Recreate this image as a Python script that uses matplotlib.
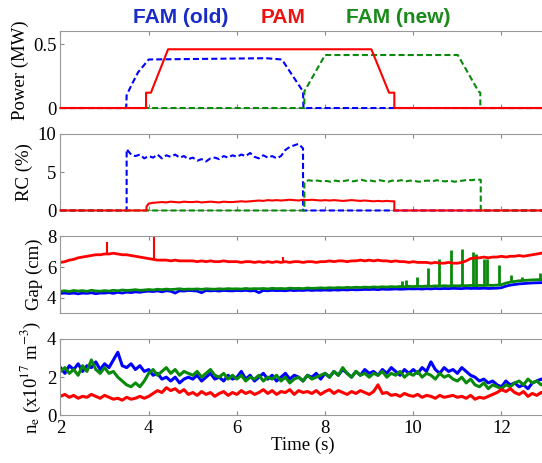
import numpy as np
import matplotlib
matplotlib.use('Agg')
from matplotlib import pyplot as plt

plt.rcParams['font.family'] = 'serif'
plt.rcParams['font.serif'] = ['Liberation Serif', 'DejaVu Serif']
plt.rcParams['mathtext.fontset'] = 'stix'

BLUE = '#0000ff'
RED = '#ff0000'
GREEN = '#0a8a0a'

# ---- Power (MW), piecewise waveforms
fam_old_pw_t = [2.0, 3.49, 3.5, 3.61, 3.76, 4.0, 6.66, 7.02, 7.5, 7.51, 13.0]
fam_old_pw = [0, 0, 0.10, 0.18, 0.28, 0.38, 0.39, 0.38, 0.13, 0, 0]
pam_pw_t = [2.0, 3.94, 3.94, 4.05, 4.44, 9.05, 9.45, 9.57, 9.57, 13.0]
pam_pw = [0, 0, 0.12, 0.12, 0.46, 0.46, 0.12, 0.12, 0, 0]
fam_new_pw_t = [2.0, 7.53, 7.53, 8.0, 11.01, 11.48, 11.52, 11.52, 13.0]
fam_new_pw = [0, 0, 0.13, 0.415, 0.415, 0.13, 0.12, 0, 0]

# ---- RC (%), sampled every 0.1 s while each antenna is on
rc_old_on, rc_old_off = 3.5, 7.5
rc_old = [8.0, 7.3, 7.1, 7.3, 6.8, 7.1, 6.9, 7.3, 6.8, 7.2,
          7.0, 7.3, 6.9, 7.1, 6.7, 6.9, 6.5, 6.7, 6.4, 6.8,
          6.9, 6.7, 7.1, 6.9, 7.2, 7.0, 7.3, 7.1, 7.5, 7.0,
          6.8, 7.2, 6.9, 7.1, 6.8, 7.1, 7.9, 8.3, 8.5, 8.7,
          8.1]
rc_pam_on, rc_pam_off = 4.0, 9.5
rc_pam = [0.9, 1.0, 1.05, 1.1, 1.05, 1.15, 1.1, 1.05, 1.15, 1.1,
          1.1, 1.15, 1.05, 1.1, 1.15, 1.1, 1.05, 1.15, 1.1, 1.1,
          1.15, 1.2, 1.15, 1.2, 1.25, 1.3, 1.25, 1.35, 1.3, 1.35,
          1.3, 1.35, 1.4, 1.35, 1.3, 1.4, 1.35, 1.4, 1.35, 1.3,
          1.35, 1.3, 1.35, 1.3, 1.25, 1.3, 1.35, 1.3, 1.25, 1.3,
          1.25, 1.2, 1.25, 1.2, 1.25, 1.2]
rc_new_on, rc_new_off = 7.53, 11.53
rc_new = [3.7, 3.95, 3.85, 3.9, 3.8, 3.85, 3.75, 3.9, 3.8, 3.85,
          3.95, 3.8, 3.9, 4.0, 3.85, 3.9, 3.8, 3.95, 3.85, 3.75,
          3.9, 3.85, 3.95, 3.8, 3.9, 3.85, 3.75, 3.85, 3.9, 3.8,
          3.95, 3.85, 3.8, 3.9, 3.75, 3.85, 3.9, 4.0, 3.95, 4.05,
          4.0]

# ---- Gap (cm) and density, sampled every 0.1 s from 2.0 to 13.0 s
time = np.round(np.arange(2.0, 13.05, 0.1), 1)

gap_old = [4.28, 4.3, 4.27, 4.3, 4.25, 4.3, 4.28, 4.32, 4.26, 4.3,
           4.3, 4.33, 4.28, 4.35, 4.3, 4.36, 4.33, 4.38, 4.35, 4.4,
           4.42, 4.4, 4.44, 4.38, 4.45, 4.42, 4.3, 4.45, 4.43, 4.47,
           4.45, 4.43, 4.32, 4.47, 4.44, 4.46, 4.43, 4.47, 4.45, 4.44,
           4.47, 4.45, 4.48, 4.44, 4.46, 4.33, 4.47, 4.45, 4.48, 4.46,
           4.47, 4.45, 4.49, 4.46, 4.48, 4.47, 4.5, 4.47, 4.49, 4.48,
           4.5, 4.48, 4.51, 4.49, 4.52, 4.5, 4.53, 4.51, 4.52, 4.54,
           4.53, 4.55, 4.52, 4.56, 4.54, 4.55, 4.57, 4.55, 4.56, 4.58,
           4.57, 4.58, 4.56, 4.59, 4.57, 4.6, 4.58, 4.6, 4.59, 4.61,
           4.6, 4.59, 4.62, 4.6, 4.61, 4.6, 4.62, 4.6, 4.61, 4.62,
           4.65, 4.75, 4.82, 4.86, 4.9, 4.92, 4.94, 4.96, 4.97, 4.98,
           5.0]
gap_pam = [6.3, 6.35, 6.45, 6.5, 6.6, 6.65, 6.7, 6.75, 6.8, 6.8,
           6.85, 6.85, 6.9, 6.85, 6.8, 6.8, 6.75, 6.7, 6.65, 6.6,
           6.55, 6.5, 6.45, 6.45, 6.45, 6.4, 6.45, 6.4, 6.4, 6.4,
           6.4, 6.35, 6.4, 6.35, 6.4, 6.35, 6.35, 6.4, 6.35, 6.35,
           6.35, 6.3, 6.35, 6.35, 6.3, 6.35, 6.3, 6.35, 6.3, 6.35,
           6.3, 6.35, 6.3, 6.35, 6.35, 6.3, 6.35, 6.35, 6.3, 6.35,
           6.35, 6.4, 6.35, 6.4, 6.4, 6.35, 6.4, 6.4, 6.45, 6.4,
           6.45, 6.4, 6.45, 6.4, 6.4, 6.35, 6.4, 6.35, 6.35, 6.3,
           6.35, 6.3, 6.3, 6.3, 6.25, 6.3, 6.25, 6.25, 6.3, 6.25,
           6.25, 6.3, 6.4, 6.55, 6.6, 6.6, 6.65, 6.6, 6.65, 6.65,
           6.7, 6.65, 6.7, 6.7, 6.75, 6.7, 6.75, 6.8, 6.85, 6.9,
           6.95]
gap_new = [4.42, 4.45, 4.4, 4.47, 4.43, 4.46, 4.41, 4.48, 4.44, 4.42,
           4.46, 4.43, 4.48, 4.45, 4.5, 4.47, 4.49, 4.52, 4.48, 4.5,
           4.53, 4.5, 4.55, 4.52, 4.56, 4.53, 4.55, 4.58, 4.54, 4.56,
           4.55, 4.57, 4.54, 4.58, 4.56, 4.55, 4.58, 4.56, 4.59, 4.57,
           4.58, 4.56, 4.6, 4.57, 4.59, 4.58, 4.6, 4.57, 4.61, 4.59,
           4.6, 4.58, 4.62, 4.6, 4.61, 4.59, 4.63, 4.61, 4.62, 4.64,
           4.62, 4.65, 4.63, 4.66, 4.64, 4.67, 4.65, 4.68, 4.66, 4.69,
           4.67, 4.7, 4.68, 4.71, 4.69, 4.72, 4.7, 4.73, 4.71, 4.74,
           4.72, 4.75, 4.73, 4.76, 4.74, 4.77, 4.75, 4.78, 4.76, 4.78,
           4.77, 4.79, 4.78, 4.8, 4.78, 4.8, 4.79, 4.81, 4.8, 4.82,
           4.85, 4.95, 5.02, 5.06, 5.1, 5.12, 5.14, 5.16, 5.17, 5.18,
           5.2]
# short spikes in the gap traces
spike_new_t = [9.74, 9.83, 10.08, 10.34, 10.59, 10.85, 11.10, 11.35, 11.42, 11.60,
               11.68, 11.95, 12.21, 12.46, 12.88]
spike_new_top = [5.06, 5.17, 5.38, 5.91, 6.55, 7.08, 7.18, 6.97, 6.87, 6.55,
                 6.55, 6.12, 5.48, 5.38, 5.59]
spike_new_base = [4.71, 4.72, 4.74, 4.76, 4.76, 4.77, 4.77, 4.79, 4.78, 4.8,
                  4.8, 4.81, 5.05, 5.12, 5.18]
spike_pam_t = [3.06, 4.12, 7.04]
spike_pam_top = [7.6, 7.95, 6.65]
spike_pam_base = [6.85, 6.5, 6.3]

ne_old = [2.5, 2.2, 2.6, 2.4, 2.7, 2.3, 2.6, 2.5, 2.8, 2.4,
          2.7, 2.5, 2.9, 3.3, 2.6, 2.5, 2.7, 2.4, 2.6, 2.3,
          2.4, 2.1, 2.2, 1.9, 2.0, 1.8, 2.0, 1.7, 1.9, 2.0,
          1.9, 2.1, 1.8, 2.0, 2.2, 1.9, 2.0, 1.8, 2.1, 1.9,
          2.0, 2.3, 1.9, 2.1, 1.8, 2.0, 2.2, 1.9, 2.1, 1.8,
          2.0, 2.2, 1.9, 2.1, 2.0, 1.8, 2.1, 2.0, 2.2, 1.9,
          2.2, 2.0, 2.3, 2.1, 2.4, 2.2, 2.0, 2.3, 2.1, 2.4,
          2.2, 2.3, 2.1, 2.4, 2.2, 2.5, 2.3, 2.1, 2.4, 2.2,
          2.4, 2.2, 2.5, 2.3, 2.8, 2.4, 2.2, 2.5, 2.3, 2.4,
          2.2, 2.5, 2.3, 2.1, 2.0, 1.8, 1.9, 1.7, 1.8, 1.6,
          1.5, 1.8, 1.6, 1.7, 1.5, 1.6, 1.4, 1.7, 1.8, 1.9,
          1.8]
ne_new = [2.3, 2.5, 2.2, 2.4, 2.1, 2.6, 2.3, 2.9, 2.4, 2.2,
          2.5, 2.2, 2.3, 2.0, 1.8, 1.6, 1.5, 1.7, 1.5, 1.8,
          2.2, 2.4, 2.1, 2.3, 2.5, 2.2, 2.4, 2.1, 2.3, 2.2,
          2.1, 2.3, 2.0, 2.2, 2.4, 2.1, 2.0, 2.2, 1.9, 2.1,
          1.9, 2.1, 1.8, 2.0, 1.9, 2.1, 1.8, 2.0, 1.9, 2.1,
          1.8, 2.0, 1.7, 1.9, 2.0, 1.8, 2.1, 1.9, 2.0, 2.1,
          2.2, 2.0, 2.3, 2.1, 2.5, 2.2, 2.0, 2.3, 2.1, 2.2,
          2.0, 2.2, 2.1, 2.3, 2.0, 2.2, 2.1, 2.3, 2.0, 2.2,
          2.1, 2.3, 2.0, 2.2, 2.1, 1.9, 2.2, 2.0, 2.1, 1.9,
          1.8, 2.0, 1.7, 1.9, 1.6, 1.5, 1.7, 1.4, 1.6, 1.5,
          1.4, 1.6, 1.5, 1.7, 1.8, 1.6, 1.9, 1.7, 1.8, 1.6,
          1.7]
ne_pam = [1.0, 1.1, 0.95, 1.05, 0.9, 1.0, 0.95, 1.1, 1.0, 0.9,
          1.05, 0.95, 0.85, 0.9, 0.8, 0.95, 0.85, 0.9, 1.0, 0.9,
          1.0, 1.15, 1.3, 1.2, 1.45, 1.3, 1.4, 1.2, 1.35, 1.1,
          1.2, 1.05, 1.25, 1.1, 1.2, 1.0, 1.15, 1.25, 1.05, 1.2,
          1.1, 1.3, 1.15, 1.25, 1.1, 1.2, 1.35, 1.15, 1.3, 1.1,
          1.25, 1.2, 1.35, 1.1, 1.3, 1.2, 1.25, 1.15, 1.3, 1.1,
          1.25, 1.35, 1.15, 1.3, 1.2, 1.1, 1.25, 1.15, 1.3, 1.2,
          1.1, 1.25, 1.6, 1.15, 1.2, 1.05, 1.1, 1.0, 1.15, 1.05,
          1.0, 1.1, 0.95, 1.05, 1.0, 0.9, 1.05, 0.95, 1.0, 1.05,
          0.95, 1.0, 0.9, 1.05, 0.85, 0.95, 0.9, 1.0, 1.1, 1.2,
          1.35, 1.25, 1.4, 1.2, 1.1, 1.25, 1.0, 1.15, 1.05, 1.2,
          1.15]


def step_trace(t_on, t_off, vals):
    # zero before t_on, sampled values every 0.1 s, zero after t_off
    tt = np.round(t_on + 0.1 * np.arange(len(vals)), 2)
    t = np.concatenate([[2.0, t_on], tt, [t_off, 13.0]])
    y = np.concatenate([[0, 0], vals, [0, 0]])
    return t, y


fig = plt.figure(figsize=(5.42, 4.63), dpi=100)
left, width, h = 0.1116, 0.895, 0.1655
bottoms = [0.7667, 0.5454, 0.3240, 0.1026]
axes = [fig.add_axes([left, b, width, h]) for b in bottoms]

dash = dict(linestyle='--', dashes=(2.9, 1.5), zorder=3)
ax = axes[0]
ax.plot(fam_old_pw_t, fam_old_pw, color=BLUE, lw=1.5, clip_on=False, **dash)
ax.plot(fam_new_pw_t, fam_new_pw, color=GREEN, lw=1.5, clip_on=False, **dash)
ax.plot(pam_pw_t, pam_pw, color=RED, lw=1.5, clip_on=False, zorder=3)
ax.set_ylim(0, 0.6)
ax.set_yticks([0, 0.5])
ax.set_yticklabels(['0', '0.5'])
ax.set_ylabel('Power (MW)')

ax = axes[1]
t, y = step_trace(rc_old_on, rc_old_off, rc_old)
ax.plot(t, y, color=BLUE, lw=1.5, clip_on=False, **dash)
t, y = step_trace(rc_new_on, rc_new_off, rc_new)
ax.plot(t, y, color=GREEN, lw=1.5, clip_on=False, **dash)
t, y = step_trace(rc_pam_on, rc_pam_off, rc_pam)
t = np.concatenate([[2.0, 3.95, 3.95], t[2:-2], [9.57, 9.57, 13.0]])
y = np.concatenate([[0, 0, 0.5], y[2:-2], [1.2, 0, 0]])
ax.plot(t, y, color=RED, lw=1.5, clip_on=False, zorder=3)
ax.set_ylim(0, 10)
ax.set_yticks([0, 5, 10])
ax.set_ylabel('RC (%)')

ax = axes[2]
ax.plot(time, gap_old, color=BLUE, lw=2)
ax.vlines(spike_new_t, spike_new_base, spike_new_top, color=GREEN, lw=2)
ax.plot(time, gap_new, color=GREEN, lw=2)
ax.vlines(spike_pam_t, spike_pam_base, spike_pam_top, color=RED, lw=1.5)
ax.plot(time, gap_pam, color=RED, lw=2)
ax.set_ylim(3, 8)
ax.set_yticks([4, 6, 8])
ax.set_ylabel('Gap (cm)')

ax = axes[3]
ax.plot(time, ne_old, color=BLUE, lw=2.2)
ax.plot(time, ne_new, color=GREEN, lw=2.2)
ax.plot(time, ne_pam, color=RED, lw=2.2)
ax.set_ylim(0, 4)
ax.set_yticks([0, 2, 4])
ax.set_ylabel(r'n$_\mathrm{e}$ (x10$^{17}$ m$^{-3}$)')
ax.set_xlabel('Time (s)', fontsize=13.5, labelpad=0)

for i, ax in enumerate(axes):
    ax.set_xlim(2, 13)
    ax.set_xticks([2, 4, 6, 8, 10, 12])
    ax.tick_params(direction='in', length=3, top=True, right=True,
                   labelsize=13.5, color='#888888', pad=3)
    if i < 3:
        ax.tick_params(labelbottom=False)
    ax.yaxis.label.set_size(13.5)
    ax.yaxis.labelpad = 3
    for s in ax.spines.values():
        s.set_color('#999999')
        s.set_linewidth(0.8)

fig.text(0.333, 0.962, 'FAM (old)', color='#1a2cc8', fontsize=15,
         fontweight='bold', family='Liberation Sans', ha='center', va='center')
fig.text(0.523, 0.962, 'PAM', color='#ee1111', fontsize=15,
         fontweight='bold', family='Liberation Sans', ha='center', va='center')
fig.text(0.735, 0.962, 'FAM (new)', color='#1a8a1a', fontsize=15,
         fontweight='bold', family='Liberation Sans', ha='center', va='center')

fig.savefig('out.png', dpi=100)
